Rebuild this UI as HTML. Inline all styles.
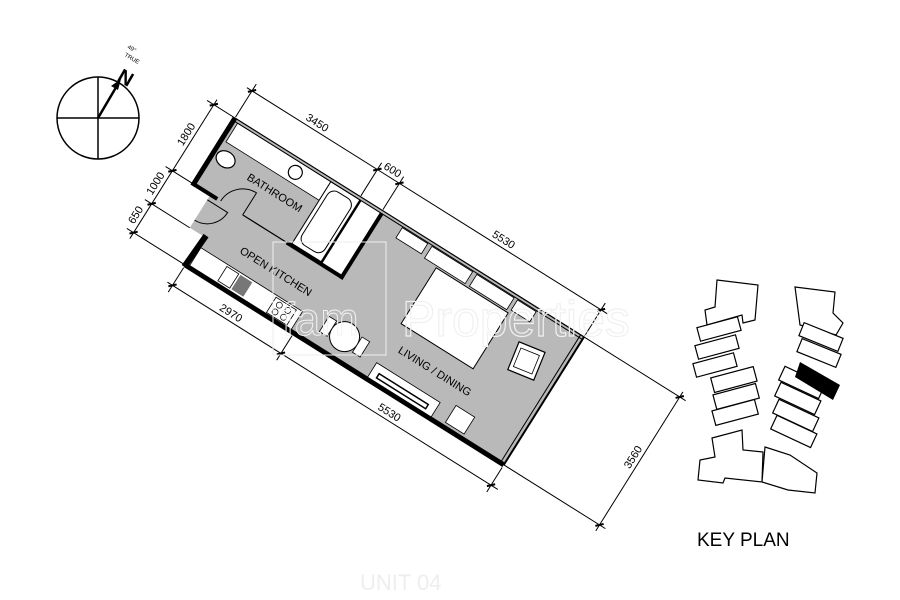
<!DOCTYPE html>
<html><head><meta charset="utf-8"><style>
html,body{margin:0;padding:0;background:#fff;width:900px;height:600px;overflow:hidden}
svg{display:block}
text{font-family:"Liberation Sans",sans-serif}
.lbl{font-size:11px;font-family:"Liberation Sans Narrow","Liberation Sans",sans-serif}
</style></head><body>
<svg width="900" height="600" viewBox="0 0 900 600" xmlns="http://www.w3.org/2000/svg">
<!-- faint top text -->
<text x="360" y="590" font-size="22" fill="#eee">UNIT 04</text>

<!-- compass -->
<g stroke="#000" stroke-width="1.5" fill="none">
<circle cx="98" cy="118" r="41"/>
<line x1="57" y1="118" x2="139" y2="118"/>
<line x1="98" y1="77" x2="98" y2="159"/>
<line x1="98" y1="118" x2="118" y2="84" stroke-width="2.5"/>
</g>
<polygon points="121,79 111,86 118,90" fill="#000"/>
<text x="0" y="0" font-size="20" font-weight="bold" transform="translate(116,80) rotate(30)">N</text>
<text x="0" y="0" font-size="6" transform="translate(127,48) rotate(30)">49°</text>
<text x="0" y="0" font-size="6" transform="translate(124,56) rotate(30)">TRUE</text>

<!-- plan -->
<g transform="translate(235,118) rotate(32.1)">
  <!-- floor -->
  <polygon points="0,0 412,0 412,151 36,151 38,117 20,117 20,80 0,80" fill="#b9b9b9"/>
  <!-- bath white areas -->
  <rect x="5" y="3" width="110" height="22" fill="#fff" stroke="#000" stroke-width="0.8"/>
  <rect x="115" y="3" width="35" height="73" fill="#fff" stroke="#000" stroke-width="1"/>
  <rect x="119" y="8" width="27" height="63" rx="8" fill="#fff" stroke="#000" stroke-width="1"/>
  <rect x="150" y="3" width="25" height="73" fill="#fff"/>
  <circle cx="80" cy="14" r="7" fill="#fff" stroke="#000" stroke-width="1.2"/>
  <ellipse cx="14" cy="40" rx="10" ry="8" fill="#fff" stroke="#000" stroke-width="1.2"/>
  <!-- walls -->
  <line x1="0" y1="0" x2="412" y2="0" stroke="#000" stroke-width="1.2"/>
  <line x1="0" y1="3" x2="412" y2="3" stroke="#000" stroke-width="1"/>
  <line x1="0" y1="0" x2="0" y2="80" stroke="#000" stroke-width="5"/>
  <line x1="0" y1="78" x2="28" y2="78" stroke="#000" stroke-width="4"/>
  <line x1="58" y1="78" x2="110" y2="78" stroke="#000" stroke-width="1.2"/>
  <line x1="110" y1="78" x2="177" y2="78" stroke="#000" stroke-width="4"/>
  <line x1="175" y1="3" x2="175" y2="80" stroke="#000" stroke-width="4"/>
  <line x1="150" y1="3" x2="150" y2="78" stroke="#000" stroke-width="2.5"/>
  <path d="M58,78 L58,52 A26,26 0 0 0 32,78" fill="none" stroke="#000" stroke-width="1"/>
  <path d="M20,84 L44,84 A24,24 0 0 1 20,108" fill="none" stroke="#000" stroke-width="1"/>
  <line x1="36" y1="151" x2="412" y2="151" stroke="#000" stroke-width="5"/>
  <line x1="38" y1="115" x2="36" y2="153" stroke="#000" stroke-width="6"/>
  <line x1="412" y1="0" x2="412" y2="151" stroke="#000" stroke-width="2"/>
  <line x1="408" y1="0" x2="408" y2="151" stroke="#000" stroke-width="1"/>
  <!-- kitchen -->
  <rect x="40" y="128" width="120" height="21" fill="#fff" stroke="#000" stroke-width="0.8"/>
  <rect x="72" y="130" width="14" height="17" fill="#fff" stroke="#000" stroke-width="0.8"/>
  <rect x="88" y="130" width="14" height="17" fill="#777"/>
  <rect x="130" y="130" width="24" height="18" fill="#fff" stroke="#000" stroke-width="0.8"/>
  <circle cx="137" cy="135" r="3" fill="none" stroke="#000" stroke-width="0.7"/>
  <circle cx="147" cy="135" r="3" fill="none" stroke="#000" stroke-width="0.7"/>
  <circle cx="137" cy="143" r="3" fill="none" stroke="#000" stroke-width="0.7"/>
  <circle cx="147" cy="143" r="3" fill="none" stroke="#000" stroke-width="0.7"/>
  <!-- dining -->
  <circle cx="209" cy="127" r="15" fill="#fff" stroke="#000" stroke-width="1"/>
  <rect x="185" y="118" width="9" height="18" fill="#fff" stroke="#000" stroke-width="0.8"/>
  <rect x="224" y="118" width="9" height="18" fill="#fff" stroke="#000" stroke-width="0.8"/>
  <!-- bedroom furniture -->
  <rect x="200" y="4" width="30" height="12" fill="#fff" stroke="#000" stroke-width="0.8"/>
  <rect x="235" y="4" width="48" height="14" fill="#fff" stroke="#000" stroke-width="0.8"/>
  <rect x="288" y="4" width="44" height="14" fill="#fff" stroke="#000" stroke-width="0.8"/>
  <rect x="336" y="4" width="22" height="12" fill="#fff" stroke="#000" stroke-width="0.8"/>
  <rect x="250" y="20" width="85" height="66" fill="#fff" stroke="#000" stroke-width="1"/>
  <rect x="362" y="36" width="28" height="30" fill="#fff" stroke="#000" stroke-width="1.2" transform="rotate(-10 376 51)"/>
  <rect x="366" y="41" width="20" height="20" fill="#fff" stroke="#000" stroke-width="0.8" transform="rotate(-10 376 51)"/>
  <rect x="250" y="132" width="75" height="17" fill="#fff" stroke="#000" stroke-width="0.8"/>
  <rect x="258" y="140" width="58" height="5" fill="#fff" stroke="#000" stroke-width="1.5"/>
  <rect x="340" y="126" width="22" height="20" fill="#fff" stroke="#000" stroke-width="0.8"/>
  <!-- labels -->
  <text class="lbl" x="42" y="46">BATHROOM</text>
  <text class="lbl" x="75" y="112">OPEN KITCHEN</text>
  <text class="lbl" x="262" y="112">LIVING / DINING</text>
  <!-- dimensions -->
  <g stroke="#000" stroke-width="1">
    <line x1="-6" y1="-32" x2="420" y2="-32"/>
    <line x1="0" y1="-40" x2="0" y2="-1"/>
    <line x1="148" y1="-40" x2="148" y2="-1"/>
    <line x1="174" y1="-40" x2="174" y2="-1"/>
    <line x1="412" y1="-40" x2="412" y2="-1"/>
    <line x1="30" y1="175" x2="420" y2="175"/>
    <line x1="36" y1="154" x2="36" y2="183"/>
    <line x1="164" y1="154" x2="164" y2="183"/>
    <line x1="412" y1="154" x2="412" y2="183"/>
    <line x1="-25" y1="-6" x2="-25" y2="158"/>
    <line x1="-33" y1="0" x2="0" y2="0"/>
    <line x1="-33" y1="78" x2="0" y2="78"/>
    <line x1="-33" y1="117" x2="20" y2="117"/>
    <line x1="-33" y1="151" x2="36" y2="151"/>
    <line x1="525" y1="-6" x2="525" y2="158"/>
    <line x1="412" y1="0" x2="532" y2="0"/>
    <line x1="412" y1="151" x2="532" y2="151"/>
  </g>
  <g stroke="#000" stroke-width="2">
    <line x1="-3" y1="-29" x2="3" y2="-35"/><line x1="145" y1="-29" x2="151" y2="-35"/>
    <line x1="171" y1="-29" x2="177" y2="-35"/><line x1="409" y1="-29" x2="415" y2="-35"/>
    <line x1="33" y1="178" x2="39" y2="172"/><line x1="161" y1="178" x2="167" y2="172"/>
    <line x1="409" y1="178" x2="415" y2="172"/>
    <line x1="-28" y1="3" x2="-22" y2="-3"/><line x1="-28" y1="81" x2="-22" y2="75"/>
    <line x1="-28" y1="120" x2="-22" y2="114"/><line x1="-28" y1="154" x2="-22" y2="148"/>
    <line x1="522" y1="3" x2="528" y2="-3"/><line x1="522" y1="154" x2="528" y2="148"/>
  </g>
  <text class="lbl" x="60" y="-36">3450</text>
  <text class="lbl" x="152" y="-36">600</text>
  <text class="lbl" x="280" y="-36">5530</text>
  <text class="lbl" x="88" y="171">2970</text>
  <text class="lbl" x="275" y="171">5530</text>
  <text class="lbl" transform="translate(-29,52) rotate(-90)">1800</text>
  <text class="lbl" transform="translate(-29,110) rotate(-90)">1000</text>
  <text class="lbl" transform="translate(-29,144) rotate(-90)">650</text>
  <text class="lbl" transform="translate(521,88) rotate(-90)">3560</text>
</g>

<!-- watermark -->
<rect x="273" y="242" width="113" height="113" fill="none" stroke="#eee" stroke-width="1"/>
<text x="282" y="335" font-size="46" font-family="Liberation Serif,serif" fill="none" stroke="#f2f2f2" stroke-width="1">fam</text>
<text x="402" y="336" font-size="50" font-family="Liberation Serif,serif" fill="none" stroke="#f0f0f0" stroke-width="1.2">Properties</text>

<!-- key plan -->
<g fill="#fff" stroke="#000" stroke-width="1.2">
  <polygon points="717,280 758,285 755,320 743,323 742,315 707,325 705,310 715,307"/>
  <rect x="698" y="322" width="42" height="14" transform="rotate(-15 719 329)"/>
  <rect x="696" y="340" width="42" height="14" transform="rotate(-15 717 347)"/>
  <rect x="694" y="358" width="42" height="14" transform="rotate(-15 715 365)"/>
  <rect x="712" y="372" width="44" height="15" transform="rotate(-15 734 380)"/>
  <rect x="714" y="389" width="44" height="15" transform="rotate(-15 736 396)"/>
  <rect x="713" y="405" width="44" height="15" transform="rotate(-15 735 412)"/>
  <polygon points="712,438 742,430 743,450 763,452 762,482 725,478 723,483 698,480 700,460 715,457"/>
  <polygon points="795,287 835,292 833,313 843,323 836,335 800,325"/>
  <rect x="800" y="330" width="42" height="14" transform="rotate(22 821 337)"/>
  <rect x="798" y="346" width="42" height="14" transform="rotate(22 819 353)"/>
  <rect x="780" y="375" width="44" height="15" transform="rotate(25 802 382)"/>
  <rect x="776" y="391" width="44" height="15" transform="rotate(25 798 398)"/>
  <rect x="774" y="408" width="44" height="15" transform="rotate(25 796 415)"/>
  <rect x="772" y="424" width="44" height="15" transform="rotate(25 794 431)"/>
  <polygon points="765,447 790,455 817,473 815,493 788,490 762,482"/>
</g>
<polygon points="800,362 840,385 833,400 795,377" fill="#000"/>
<text x="697" y="546" font-size="19" fill="#000">KEY PLAN</text>
</svg>
</body></html>
